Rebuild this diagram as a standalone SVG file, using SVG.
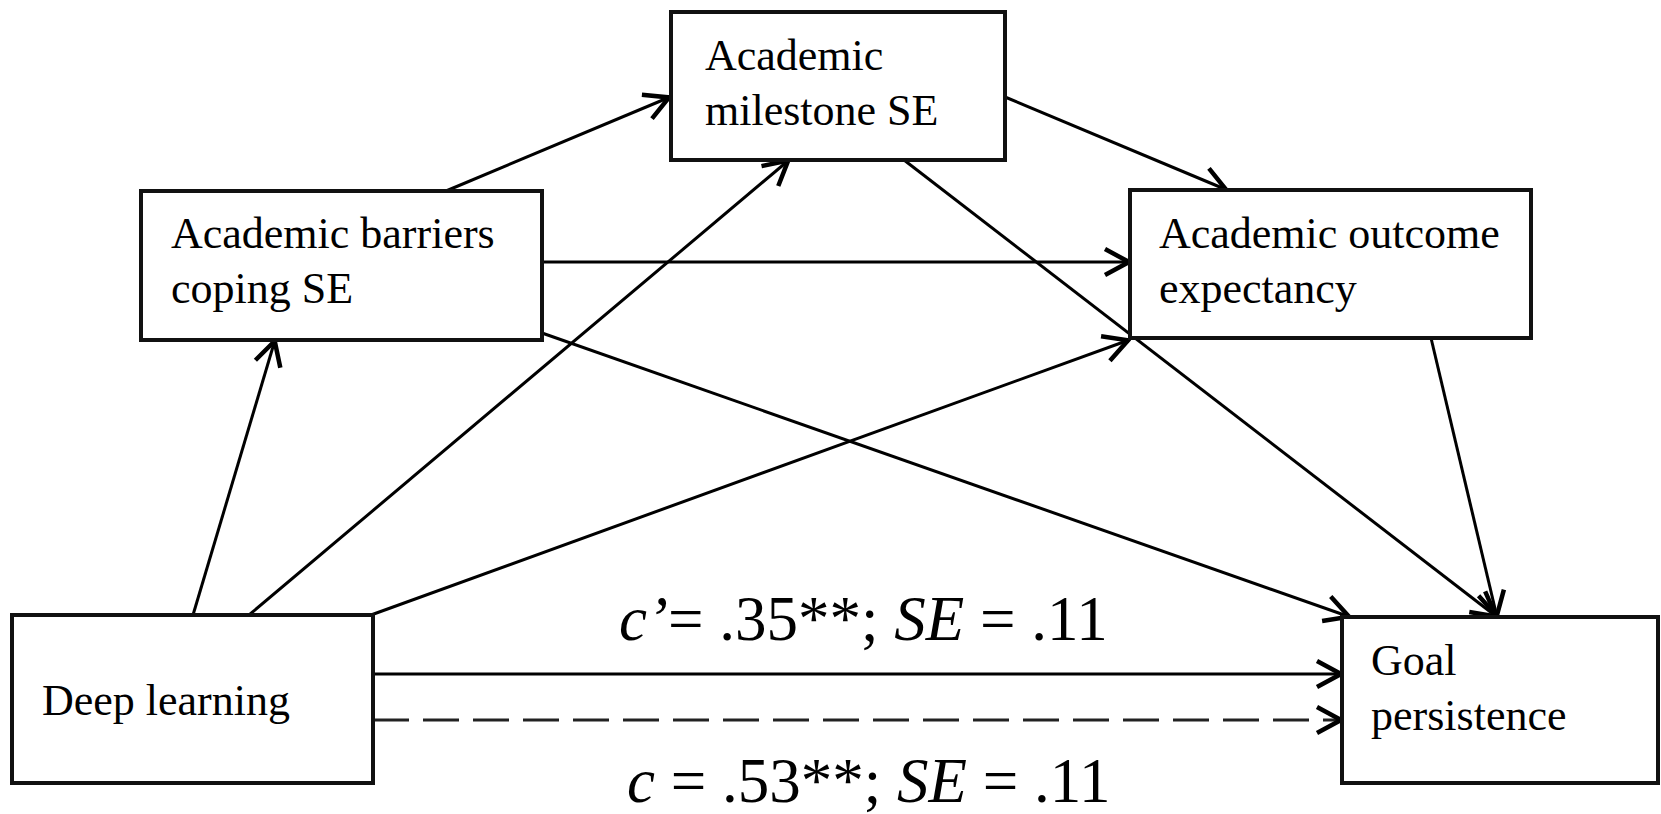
<svg xmlns="http://www.w3.org/2000/svg" width="1661" height="814" viewBox="0 0 1661 814">
<style>
.box{fill:#fff;stroke:#111;stroke-width:4}
.t{font-family:"Liberation Serif","Times New Roman",serif;font-size:44px;fill:#000}
.lab{font-family:"Liberation Serif","Times New Roman",serif;font-size:63px;fill:#000}
.i{font-style:italic}
.c{stroke:#000;stroke-width:3;fill:none;marker-end:url(#ah)}
.d{stroke-dasharray:36 14;stroke:#222}
</style>
<defs>
<marker id="ah" viewBox="0 0 30 32" refX="28" refY="16" markerWidth="30" markerHeight="32" markerUnits="userSpaceOnUse" orient="auto">
<path d="M3,3 L27,16 L3,29" fill="none" stroke="#000" stroke-width="4.5"/>
</marker>
</defs>
<rect width="1661" height="814" fill="#fff"/>
<g id="connectors">
<line class="c" x1="446" y1="191" x2="670" y2="97"/>
<line class="c" x1="1005" y1="97" x2="1227" y2="190"/>
<line class="c" x1="542" y1="262" x2="1130" y2="262"/>
<line class="c" x1="542" y1="333" x2="1350" y2="617"/>
<line class="c" x1="904" y1="160" x2="1497" y2="617"/>
<line class="c" x1="1431" y1="338" x2="1497" y2="617"/>
<line class="c" x1="193" y1="615" x2="275" y2="340"/>
<line class="c" x1="249" y1="615" x2="789" y2="160"/>
<line class="c" x1="371" y1="615" x2="1129" y2="340"/>
<line class="c" x1="373" y1="674" x2="1342" y2="674"/>
<line class="c d" x1="373" y1="720" x2="1342" y2="720"/>
</g>
<g id="milestone">
<rect class="box" x="671" y="12" width="334" height="148"/>
<text class="t" x="705" y="70">Academic</text>
<text class="t" x="705" y="125">milestone SE</text>
</g>
<g id="barriers">
<rect class="box" x="141" y="191" width="401" height="149"/>
<text class="t" x="171" y="248">Academic barriers</text>
<text class="t" x="171" y="303">coping SE</text>
</g>
<g id="outcome">
<rect class="box" x="1130" y="190" width="401" height="148"/>
<text class="t" x="1159" y="248">Academic outcome</text>
<text class="t" x="1159" y="303">expectancy</text>
</g>
<g id="deep">
<rect class="box" x="12" y="615" width="361" height="168"/>
<text class="t" x="42" y="715">Deep learning</text>
</g>
<g id="goal">
<rect class="box" x="1342" y="617" width="316" height="166"/>
<text class="t" x="1371" y="675">Goal</text>
<text class="t" x="1371" y="730">persistence</text>
</g>
<g id="labels">
<text class="lab" x="619" y="640"><tspan class="i">c’</tspan>= .35**; <tspan class="i">SE</tspan> = .11</text>
<text class="lab" x="627" y="802"><tspan class="i">c</tspan> = .53**; <tspan class="i">SE</tspan> = .11</text>
</g>
</svg>
